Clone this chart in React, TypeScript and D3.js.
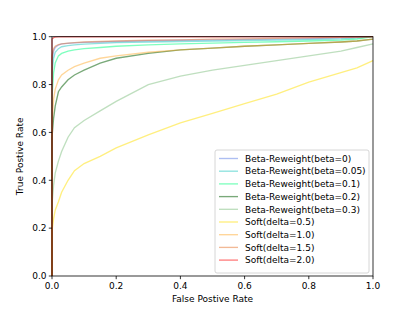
import React from "react";
import * as d3 from "d3";

// shared false positive rate grid (first point is the origin)
const fpr = [0, 0, 0.005, 0.01, 0.02, 0.03, 0.05, 0.07, 0.1, 0.15, 0.2, 0.3, 0.4, 0.5, 0.6, 0.7, 0.8, 0.9, 0.95, 1.0];

const betaR0 = [0, 0.9, 0.94, 0.955, 0.965, 0.97, 0.972, 0.974, 0.976, 0.978, 0.98, 0.983, 0.985, 0.987, 0.989, 0.99, 0.992, 0.995, 0.997, 1.0];
const betaR005 = [0, 0.85, 0.91, 0.935, 0.95, 0.958, 0.963, 0.966, 0.969, 0.972, 0.975, 0.978, 0.98, 0.982, 0.984, 0.986, 0.988, 0.991, 0.994, 1.0];
const betaR01 = [0, 0.75, 0.85, 0.89, 0.92, 0.93, 0.94, 0.945, 0.95, 0.955, 0.96, 0.966, 0.97, 0.973, 0.976, 0.979, 0.982, 0.986, 0.99, 1.0];
const betaR02 = [0, 0.58, 0.66, 0.71, 0.77, 0.79, 0.82, 0.84, 0.86, 0.89, 0.91, 0.93, 0.945, 0.952, 0.96, 0.966, 0.972, 0.978, 0.982, 0.99];
const betaR03 = [0, 0.3, 0.38, 0.43, 0.48, 0.52, 0.58, 0.62, 0.65, 0.69, 0.73, 0.8, 0.835, 0.86, 0.88, 0.9, 0.92, 0.94, 0.955, 0.97];
const soft05 = [0, 0.19, 0.24, 0.275, 0.31, 0.35, 0.4, 0.44, 0.47, 0.5, 0.535, 0.59, 0.64, 0.68, 0.72, 0.76, 0.81, 0.85, 0.87, 0.9];
const soft10 = [0, 0.64, 0.74, 0.78, 0.82, 0.84, 0.86, 0.875, 0.89, 0.91, 0.92, 0.935, 0.945, 0.952, 0.96, 0.966, 0.972, 0.978, 0.982, 0.99];
const soft15 = [0, 0.92, 0.95, 0.96, 0.967, 0.97, 0.973, 0.975, 0.978, 0.98, 0.982, 0.985, 0.987, 0.99, 0.991, 0.993, 0.995, 0.997, 0.998, 1.0];
const soft20 = [0, 0.99, 0.996, 0.998, 0.999, 1, 1, 1, 1, 1, 1, 1, 1, 1, 1, 1, 1, 1, 1, 1];

const labels = [
  "Beta-Reweight(beta=0)",
  "Beta-Reweight(beta=0.05)",
  "Beta-Reweight(beta=0.1)",
  "Beta-Reweight(beta=0.2)",
  "Beta-Reweight(beta=0.3)",
  "Soft(delta=0.5)",
  "Soft(delta=1.0)",
  "Soft(delta=1.5)",
  "Soft(delta=2.0)",
];
const tprs = [betaR0, betaR005, betaR01, betaR02, betaR03, soft05, soft10, soft15, soft20];
const colors = ["#4a6fe3", "#20c8c0", "#00ff80", "#1f6f1f", "#80c080", "#ffe000", "#ffa520", "#e8803f", "#ff0000"];
const opac = [0.45, 0.5, 0.5, 0.6, 0.5, 0.5, 0.45, 0.55, 0.5];

const ticks = [0, 0.2, 0.4, 0.6, 0.8, 1.0];

const W = 415, H = 311;
const m = { left: 52, right: 373, top: 36.7, bottom: 276 };

export default function App() {
  const x = d3.scaleLinear().domain([0, 1]).range([m.left, m.right]);
  const y = d3.scaleLinear().domain([0, 1]).range([m.bottom, m.top]);
  const line = d3.line<[number, number]>().x((d) => x(d[0])).y((d) => y(d[1]));
  const font = "DejaVu Sans, sans-serif";

  // legend
  const lx = 215, ly = 150, lw = 154, lh = 123, step = 12.7;

  return (
    <svg width={W} height={H} style={{ position: "absolute", left: 0, top: 0 }} fontFamily={font}>
      <rect width={W} height={H} fill="#fff" />
      {tprs.map((t, i) => (
        <path
          key={i}
          d={line(fpr.map((f, j) => [f, t[j]] as [number, number])) || ""}
          fill="none"
          stroke={colors[i]}
          strokeOpacity={opac[i]}
          strokeWidth={1.35}
        />
      ))}
      {/* spines */}
      <rect x={m.left} y={m.top} width={m.right - m.left} height={m.bottom - m.top} fill="none" stroke="#000" strokeWidth={0.8} />
      {ticks.map((t) => (
        <g key={"x" + t}>
          <line x1={x(t)} x2={x(t)} y1={m.bottom} y2={m.bottom + 3.2} stroke="#000" strokeWidth={0.8} />
          <text x={x(t)} y={m.bottom + 13} fontSize={9} textAnchor="middle">{t.toFixed(1)}</text>
        </g>
      ))}
      {ticks.map((t) => (
        <g key={"y" + t}>
          <line x1={m.left - 3.2} x2={m.left} y1={y(t)} y2={y(t)} stroke="#000" strokeWidth={0.8} />
          <text x={m.left - 5.5} y={y(t) + 3.3} fontSize={9} textAnchor="end">{t.toFixed(1)}</text>
        </g>
      ))}
      <text x={(m.left + m.right) / 2} y={302} fontSize={9} textAnchor="middle">False Postive Rate</text>
      <text transform={`translate(23,${(m.top + m.bottom) / 2}) rotate(-90)`} fontSize={9} textAnchor="middle">True Postive Rate</text>

      <rect x={lx} y={ly} width={lw} height={lh} rx={2} fill="#fff" fillOpacity={0.8} stroke="#ccc" strokeWidth={0.8} />
      {labels.map((l, i) => (
        <g key={l}>
          <line x1={lx + 4} x2={lx + 23} y1={ly + 8.5 + i * step} y2={ly + 8.5 + i * step} stroke={colors[i]} strokeOpacity={opac[i]} strokeWidth={1.35} />
          <text x={lx + 30} y={ly + 8.5 + i * step + 3.2} fontSize={9}>{l}</text>
        </g>
      ))}
    </svg>
  );
}
